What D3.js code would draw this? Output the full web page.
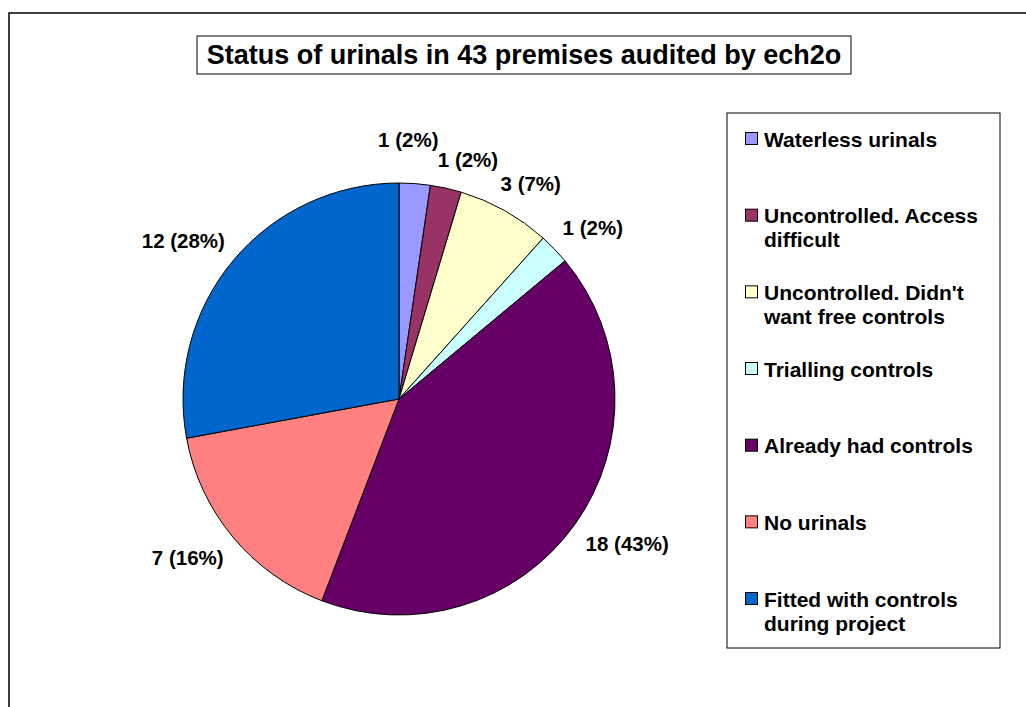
<!DOCTYPE html>
<html>
<head>
<meta charset="utf-8">
<script src="https://cdn.jsdelivr.net/npm/d3@7"></script>
<style>
  body { margin: 0; background: #fff; }
  text { font-family: "Liberation Sans", Arial, sans-serif; font-weight: bold; }
</style>
</head>
<body>
<svg id="chart" width="1026" height="707"></svg>
<script>
// data
var categories = ["Waterless urinals", "Uncontrolled. Access difficult",
    "Uncontrolled. Didn't want free controls", "Trialling controls",
    "Already had controls", "No urinals", "Fitted with controls during project"];
var counts = [1, 1, 3, 1, 18, 7, 12];
var percents = [2, 2, 7, 2, 43, 16, 28];
var colours = ["#9999FF", "#993366", "#FFFFCC", "#CCFFFF", "#660066", "#FF8080", "#0066CC"];
var title = "Status of urinals in 43 premises audited by ech2o";

var w = 1026, h = 707;
var svg = d3.select("#chart");

svg.append("rect").attr("width", w).attr("height", h).attr("fill", "#fff");

// chart area border (runs off right and bottom)
svg.append("rect")
    .attr("x", 9).attr("y", 13)
    .attr("width", w + 20).attr("height", h + 20)
    .attr("fill", "none").attr("stroke", "#000").attr("stroke-width", 1.5);

// title
svg.append("rect")
    .attr("x", 197).attr("y", 36).attr("width", 654).attr("height", 38)
    .attr("fill", "#fff").attr("stroke", "#000").attr("stroke-width", 1);
svg.append("text")
    .attr("x", 524).attr("y", 64)
    .attr("text-anchor", "middle")
    .style("font-size", "27px")
    .text(title);

// pie
var cx = 399, cy = 399, radius = 216;

var pie = d3.pie()
    .sort(null)
    .value(function(d) { return d; });

var arc = d3.arc()
    .outerRadius(radius)
    .innerRadius(0);

var mainGroup = svg.append("g")
    .attr("transform", "translate(" + cx + "," + cy + ")");

var slices = pie(counts);

mainGroup.selectAll(".arc")
    .data(slices)
    .enter().append("path")
    .attr("class", "arc")
    .attr("d", arc)
    .attr("fill", function(d, i) { return colours[i]; })
    .attr("stroke", "#000")
    .attr("stroke-width", 1);

// data labels, placed outside end, pushed apart if they overlap
var gap = 23;
var labels = mainGroup.selectAll(".lbl")
    .data(slices)
    .enter().append("text")
    .attr("class", "lbl")
    .attr("text-anchor", "middle")
    .style("font-size", "20.5px")
    .text(function(d, i) { return counts[i] + " (" + percents[i] + "%)"; });

var info = [];
labels.each(function(d) {
    var b = this.getBBox();
    info.push({ a: (d.startAngle + d.endAngle) / 2, hw: b.width / 2, hh: 8.5, out: 0 });
});

function boxOf(o) {
    var s = Math.sin(o.a), c = Math.cos(o.a);
    var x = (radius + gap + o.out) * s + o.hw * s;
    var y = -(radius + gap + o.out) * c - o.hh * c;
    return { x: x, y: y, x0: x - o.hw, x1: x + o.hw, y0: y - o.hh, y1: y + o.hh };
}

function overlaps(p, q) {
    var pad = 3;
    return p.x0 < q.x1 + pad && q.x0 < p.x1 + pad && p.y0 < q.y1 + pad && q.y0 < p.y1 + pad;
}

for (var it = 0; it < 600; it++) {
    var moved = false;
    for (var i = 0; i < info.length - 1; i++) {
        if (overlaps(boxOf(info[i]), boxOf(info[i + 1]))) {
            info[i].a -= 0.002;
            info[i].out += 0.6;
            info[i + 1].a += 0.002;
            moved = true;
        }
    }
    if (!moved) break;
}

labels
    .attr("x", function(d, i) { return boxOf(info[i]).x; })
    .attr("y", function(d, i) { return boxOf(info[i]).y + 7.5; });

// legend
var lx = 727, ly = 113, lw = 273, lh = 535;
svg.append("rect")
    .attr("x", lx).attr("y", ly).attr("width", lw).attr("height", lh)
    .attr("fill", "#fff").attr("stroke", "#000").attr("stroke-width", 1);

var step = 76.67;
var legend = svg.selectAll(".legend")
    .data(categories)
    .enter().append("g")
    .attr("class", "legend")
    .attr("transform", function(d, i) {
        return "translate(" + (lx + 18) + "," + (ly + 26 + i * step) + ")"; });

legend.append("rect")
    .attr("x", 0.5).attr("y", -6.5)
    .attr("width", 12).attr("height", 12)
    .attr("fill", function(d, i) { return colours[i]; })
    .attr("stroke", "#000").attr("stroke-width", 1);

legend.each(function(name) {
    var g = d3.select(this);
    var t = g.append("text")
        .attr("x", 19).attr("y", 7.5)
        .style("font-size", "21px");
    var words = name.split(" ");
    var line = [];
    var tspan = t.append("tspan").attr("x", 19).attr("dy", 0);
    words.forEach(function(word) {
        line.push(word);
        tspan.text(line.join(" "));
        if (tspan.node().getComputedTextLength() > 228 && line.length > 1) {
            line.pop();
            tspan.text(line.join(" "));
            line = [word];
            tspan = t.append("tspan").attr("x", 19).attr("dy", 24).text(word);
        }
    });
});
</script>
</body>
</html>
